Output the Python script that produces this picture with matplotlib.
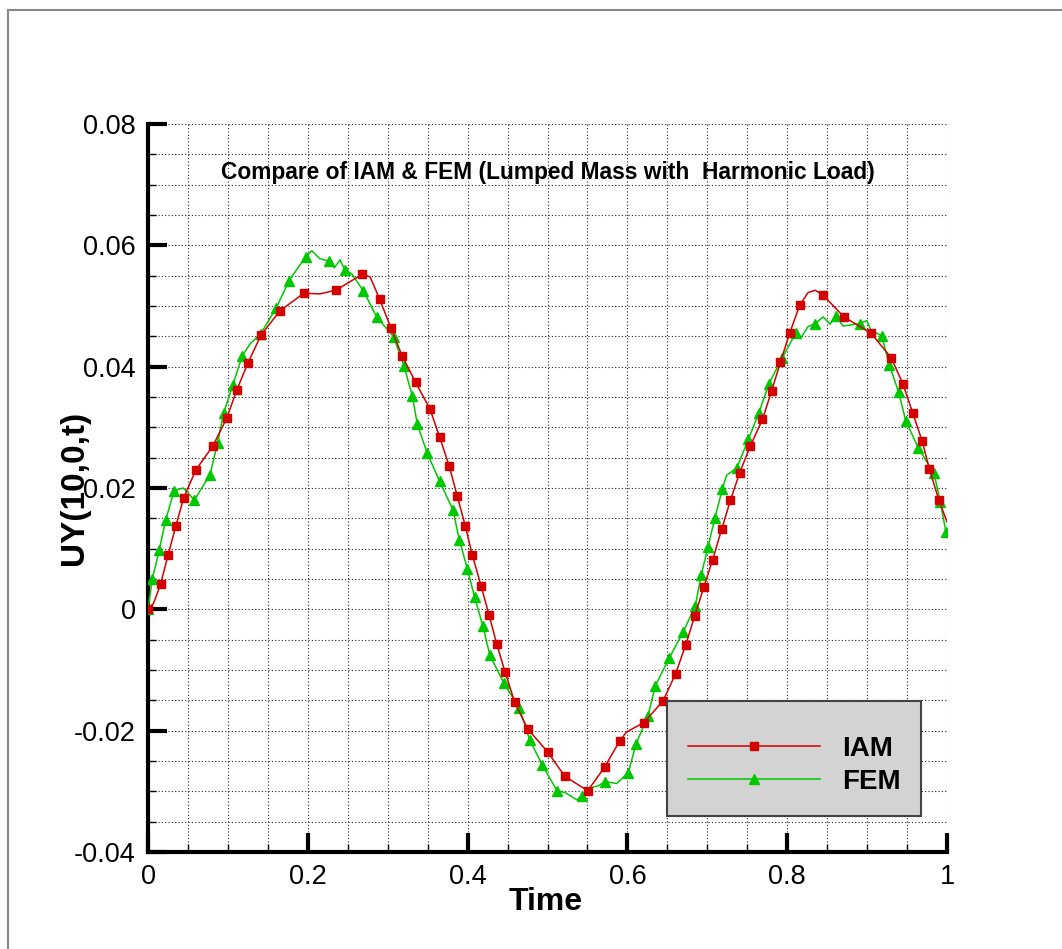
import matplotlib
matplotlib.use("Agg")
import matplotlib.pyplot as plt
from matplotlib.ticker import MultipleLocator, FixedLocator, FixedFormatter
from matplotlib.lines import Line2D

plt.rcParams["font.family"] = ["Liberation Sans", "DejaVu Sans"]

# IAM curve (red): time, displacement; mark=1 where a square symbol sits
iam_t = [0.0, 0.007, 0.0159, 0.025, 0.035, 0.0447, 0.060, 0.081, 0.0985, 0.111,
         0.125, 0.1415, 0.165, 0.195, 0.215, 0.235, 0.268, 0.278, 0.290, 0.304,
         0.318, 0.335, 0.353, 0.365, 0.377, 0.387, 0.397, 0.406, 0.4168, 0.4268,
         0.4364, 0.4468, 0.4589, 0.4752, 0.5002, 0.5215, 0.5503, 0.5716, 0.5903, 0.599,
         0.6204, 0.6446, 0.6604, 0.6729, 0.6842, 0.6955, 0.7067, 0.718, 0.729, 0.7405,
         0.7538, 0.769, 0.7805, 0.7914, 0.803, 0.8156, 0.826, 0.835, 0.8448, 0.871,
         0.905, 0.930, 0.945, 0.957, 0.969, 0.978, 0.9896, 1.0]
iam_v = [0.0, 0.0010, 0.0042, 0.0089, 0.0138, 0.0184, 0.0230, 0.0269, 0.0315, 0.0361,
         0.0406, 0.0452, 0.0492, 0.0521, 0.0520, 0.0526, 0.0552, 0.0548, 0.0511, 0.0464,
         0.0418, 0.0374, 0.0330, 0.0284, 0.0236, 0.0187, 0.0138, 0.0089, 0.0039, -0.0009,
         -0.0057, -0.0103, -0.0153, -0.0197, -0.0235, -0.0275, -0.0299, -0.0260, -0.0217, -0.0202,
         -0.0187, -0.0151, -0.0106, -0.0059, -0.0011, 0.0036, 0.0082, 0.0132, 0.0180, 0.0225,
         0.0269, 0.0313, 0.0360, 0.0407, 0.0455, 0.0501, 0.0522, 0.0526, 0.0518, 0.0482,
         0.0455, 0.0415, 0.0371, 0.0324, 0.0277, 0.0231, 0.0181, 0.0144]
iam_mark = [1, 0, 1, 1, 1, 1, 1, 1, 1, 1,
            1, 1, 1, 1, 0, 1, 1, 0, 1, 1,
            1, 1, 1, 1, 1, 1, 1, 1, 1, 1,
            1, 1, 1, 1, 1, 1, 1, 1, 1, 0,
            1, 1, 1, 1, 1, 1, 1, 1, 1, 1,
            1, 1, 1, 1, 1, 1, 0, 0, 1, 1,
            1, 1, 1, 1, 1, 1, 1, 0]

# FEM curve (green): time, displacement; mark=1 where a triangle symbol sits
fem_t = [0.0, 0.0054, 0.0141, 0.0221, 0.0325, 0.044, 0.050, 0.058, 0.0776, 0.0872,
         0.0947, 0.106, 0.1176, 0.128, 0.141, 0.1606, 0.1765, 0.1973, 0.205, 0.215,
         0.2261, 0.2332, 0.2403, 0.2466, 0.255, 0.2695, 0.2862, 0.3075, 0.3204, 0.3308,
         0.3371, 0.3496, 0.365, 0.3817, 0.3896, 0.3996, 0.4088, 0.419, 0.428, 0.4456,
         0.4648, 0.4777, 0.4932, 0.5119, 0.522, 0.5365, 0.5432, 0.557, 0.563, 0.5724,
         0.5866, 0.6012, 0.6108, 0.6258, 0.635, 0.652, 0.670, 0.685, 0.6925, 0.7009,
         0.7096, 0.7188, 0.724, 0.737, 0.7513, 0.7646, 0.7772, 0.7939, 0.8106, 0.818,
         0.826, 0.8352, 0.845, 0.8536, 0.8611, 0.870, 0.8911, 0.8995, 0.905, 0.9182,
         0.9278, 0.9395, 0.9483, 0.9641, 0.9837, 0.9917, 0.9987]
fem_v = [0.0, 0.0050, 0.0098, 0.0147, 0.0195, 0.0200, 0.0192, 0.0180, 0.0222, 0.0275,
         0.0324, 0.0369, 0.0417, 0.0438, 0.0454, 0.0497, 0.0542, 0.0581, 0.0591, 0.0578,
         0.0574, 0.0563, 0.0576, 0.0559, 0.0553, 0.0525, 0.0482, 0.0449, 0.0401, 0.0352,
         0.0305, 0.0257, 0.0211, 0.0164, 0.0115, 0.0067, 0.0020, -0.0027, -0.0076, -0.0122,
         -0.0163, -0.0215, -0.0256, -0.0299, -0.0302, -0.0314, -0.0308, -0.0293, -0.0291, -0.0284,
         -0.0287, -0.0269, -0.0222, -0.0175, -0.0126, -0.0081, -0.0037, 0.0006, 0.0057, 0.0103,
         0.0151, 0.0198, 0.0221, 0.0233, 0.0280, 0.0324, 0.0372, 0.0415, 0.0455, 0.0449,
         0.0466, 0.0471, 0.0482, 0.0470, 0.0483, 0.0467, 0.0471, 0.0476, 0.0460, 0.0451,
         0.0403, 0.0358, 0.0311, 0.0266, 0.0224, 0.0177, 0.0127]
fem_mark = [1, 1, 1, 1, 1, 0, 0, 1, 1, 1,
            1, 1, 1, 0, 1, 1, 1, 1, 0, 0,
            1, 0, 0, 1, 0, 1, 1, 1, 1, 1,
            1, 1, 1, 1, 1, 1, 1, 1, 1, 1,
            1, 1, 1, 1, 0, 0, 1, 0, 0, 1,
            0, 1, 1, 1, 1, 1, 1, 1, 1, 1,
            1, 1, 0, 1, 1, 1, 1, 1, 1, 0,
            0, 1, 0, 0, 1, 0, 1, 0, 0, 1,
            1, 1, 1, 1, 1, 1, 1]

x_ticks = [0, 0.2, 0.4, 0.6, 0.8, 1.0]
x_labels = ["0", "0.2", "0.4", "0.6", "0.8", "1"]
y_ticks = [-0.04, -0.02, 0, 0.02, 0.04, 0.06, 0.08]
y_labels = ["-0.04", "-0.02", "0", "0.02", "0.04", "0.06", "0.08"]

red = "#d40000"
green = "#00c800"

fig = plt.figure(figsize=(10.62, 9.49), dpi=100)
ax = fig.add_axes([148 / 1062, 1 - 852 / 949, 799 / 1062, 728 / 949])

ax.plot(iam_t, iam_v, color=red, lw=1.1, marker="s", ms=5.5,
        markevery=[i for i, m in enumerate(iam_mark) if m], label="IAM", zorder=4)
ax.plot(fem_t, fem_v, color=green, lw=1.1, marker="^", ms=6.5,
        markevery=[i for i, m in enumerate(fem_mark) if m], label="FEM", zorder=3)

ax.set_xlim(0, 1)
ax.set_ylim(-0.04, 0.08)
ax.xaxis.set_major_locator(FixedLocator(x_ticks))
ax.xaxis.set_major_formatter(FixedFormatter(x_labels))
ax.yaxis.set_major_locator(FixedLocator(y_ticks))
ax.yaxis.set_major_formatter(FixedFormatter(y_labels))
ax.xaxis.set_minor_locator(MultipleLocator(0.05))
ax.yaxis.set_minor_locator(MultipleLocator(0.005))

ax.grid(True, which="both", color="#222222", lw=0.8, linestyle=(0, (1, 2)), zorder=0)
ax.set_axisbelow(True)

for s in ["top", "right"]:
    ax.spines[s].set_visible(False)
for s in ["left", "bottom"]:
    ax.spines[s].set_linewidth(3)
ax.tick_params(which="major", direction="in", length=14, width=3, labelsize=19.5, pad=9)
ax.tick_params(which="minor", direction="in", length=6, width=1)

ax.set_xlabel("Time", fontsize=23, fontweight="bold")
ax.set_ylabel("UY(10,0,t)", fontsize=24, fontweight="bold")
ax.xaxis.set_label_coords(0.498, -0.048)
ax.yaxis.set_label_coords(-0.072, 0.5)

ax.text(0.5006, 0.9327, "Compare of IAM & FEM (Lumped Mass with  Harmonic Load)",
        transform=ax.transAxes, ha="center", va="center", fontsize=16.4,
        fontweight="bold")

leg = ax.legend(loc="upper left", bbox_to_anchor=((667 - 148) / 799, (852 - 701) / 728),
                borderaxespad=0, prop={"weight": "bold", "size": 20},
                numpoints=1, handlelength=4.75, handletextpad=0.8, borderpad=0.75,
                labelspacing=0.25, fancybox=False, framealpha=1,
                title=" ", title_fontsize=6)
leg.get_frame().set_facecolor("#d3d3d3")
leg.get_frame().set_edgecolor("#444444")
leg.get_frame().set_linewidth(1.5)

# thin page frame
fig.add_artist(Line2D([8 / 1062, 1], [1 - 9.5 / 949, 1 - 9.5 / 949], color="#888888", lw=1.5))
fig.add_artist(Line2D([8 / 1062, 8 / 1062], [0, 1 - 9.5 / 949], color="#888888", lw=1.5))

fig.savefig("out.png", dpi=100)
